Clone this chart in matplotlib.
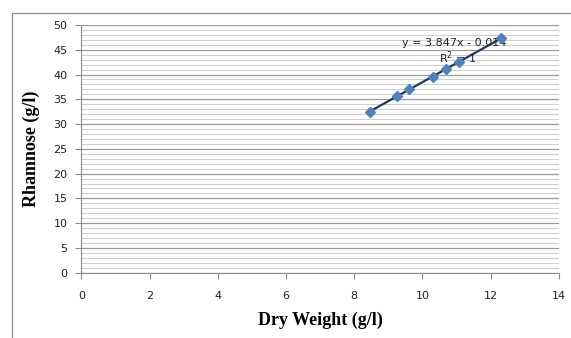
import numpy as np
import matplotlib
matplotlib.use('Agg')
import matplotlib.pyplot as plt
from matplotlib.patches import Rectangle
from matplotlib.ticker import MultipleLocator

# data
dry_weight = [8.45, 9.25, 9.62, 10.3, 10.7, 11.08, 12.31]
rhamnose = [32.5, 35.6, 37.0, 39.6, 41.1, 42.6, 47.3]
eq_text = 'y = 3.847x - 0.014'
r2_text = 'R$^2$ = 1'
x_ticks = [0, 2, 4, 6, 8, 10, 12, 14]
y_ticks = [0, 5, 10, 15, 20, 25, 30, 35, 40, 45, 50]

fig = plt.figure(figsize=(5.71, 3.38), dpi=100)
ax = fig.add_axes([0.1427, 0.1932, 0.8358, 0.7329])

# outer chart frame (only left and top show)
fig.patches.append(Rectangle((12/571, -0.1), 1.2, 1 - 13/338 + 0.1, transform=fig.transFigure,
                             fill=False, edgecolor='#8c8c8c', lw=0.9))

# trendline from the fitted coefficients
slope, icpt = np.polyfit(dry_weight, rhamnose, 1)
xs = np.array([dry_weight[0], dry_weight[-1]])
ax.plot(xs, slope*xs + icpt, color='#1f3864', lw=1.6, zorder=3)
ax.plot(dry_weight, rhamnose, ls='none', marker='D', ms=5.5, color='#4f81bd', zorder=4)

ax.text(10.93, 46.3, eq_text, fontsize=8, family='DejaVu Sans', color='#222222', ha='center', va='center')
ax.text(11.05, 43.3, r2_text, fontsize=8, family='DejaVu Sans', color='#222222', ha='center', va='center')

ax.set_xlim(0, 14)
ax.set_ylim(0, 50)
ax.set_xticks(x_ticks)
ax.set_yticks(y_ticks)
ax.yaxis.set_minor_locator(MultipleLocator(1))
ax.grid(which='major', axis='y', color='#9a9a9a', lw=0.9)
ax.grid(which='minor', axis='y', color='#d0d0d0', lw=0.8)
ax.set_axisbelow(True)
ax.tick_params(which='minor', length=0)
ax.tick_params(which='major', direction='out', length=4, color='#8c8c8c', labelsize=8, labelcolor='#222222')
ax.tick_params(axis='x', pad=9)
ax.tick_params(axis='y', pad=6)
for s in ['top', 'right']:
    ax.spines[s].set_visible(False)
for s in ['left', 'bottom']:
    ax.spines[s].set_color('#8c8c8c')

ax.set_xlabel('Dry Weight (g/l)', family='Liberation Serif', fontweight='bold', fontsize=13, labelpad=8)
ax.set_ylabel('Rhamnose (g/l)', family='Liberation Serif', fontweight='bold', fontsize=13, labelpad=10)

fig.savefig('out.png', dpi=100)
